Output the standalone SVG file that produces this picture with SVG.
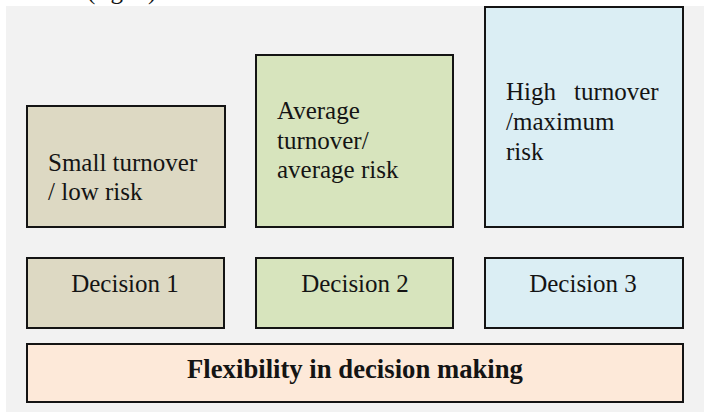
<svg xmlns="http://www.w3.org/2000/svg" width="704" height="413" viewBox="0 0 704 413">
  <style>
    .box { stroke: #141414; stroke-width: 2; }
    .t { font-family: "Liberation Serif", "DejaVu Serif", serif; font-size: 25px; fill: #141414; }
    .c { text-anchor: middle; }
    .b { font-weight: bold; font-size: 26.7px; }
  </style>

  <!-- page and panel background -->
  <rect x="0" y="0" width="704" height="413" fill="#ffffff"/>
  <rect x="6" y="6" width="698" height="406" fill="#f2f2f2"/>

  <!-- caption line running off the top edge -->
  <text class="t" x="87" y="-1.5">(fig. 1)</text>

  <!-- upper row: turnover / risk levels -->
  <g id="risk-low">
    <rect class="box" x="27" y="106" width="198" height="121" fill="#ddd9c3"/>
    <text class="t" x="48" y="171">Small turnover</text>
    <text class="t" x="48" y="200">/ low risk</text>
  </g>

  <g id="risk-average">
    <rect class="box" x="256" y="55" width="197" height="172" fill="#d7e4bd"/>
    <text class="t" x="277" y="119">Average</text>
    <text class="t" x="277" y="149">turnover/</text>
    <text class="t" x="277" y="178">average risk</text>
  </g>

  <g id="risk-high">
    <rect class="box" x="485" y="7" width="198" height="220" fill="#dbeef4"/>
    <text class="t" y="100"><tspan x="506">High</tspan><tspan x="574">turnover</tspan></text>
    <text class="t" x="506" y="130">/maximum</text>
    <text class="t" x="506" y="160">risk</text>
  </g>

  <!-- middle row: decisions -->
  <g id="decision-1">
    <rect class="box" x="27" y="258" width="197" height="70" fill="#ddd9c3"/>
    <text class="t c" x="125" y="292">Decision 1</text>
  </g>

  <g id="decision-2">
    <rect class="box" x="256" y="258" width="197" height="70" fill="#d7e4bd"/>
    <text class="t c" x="355" y="292">Decision 2</text>
  </g>

  <g id="decision-3">
    <rect class="box" x="485" y="258" width="198" height="70" fill="#dbeef4"/>
    <text class="t c" x="583" y="292">Decision 3</text>
  </g>

  <!-- base bar -->
  <g id="flexibility">
    <rect class="box" x="27" y="344" width="656" height="58" fill="#fde9d9"/>
    <text class="t c b" x="355" y="378">Flexibility in decision making</text>
  </g>

  <!-- no connectors in this figure -->
  <g id="connectors"/>
</svg>
